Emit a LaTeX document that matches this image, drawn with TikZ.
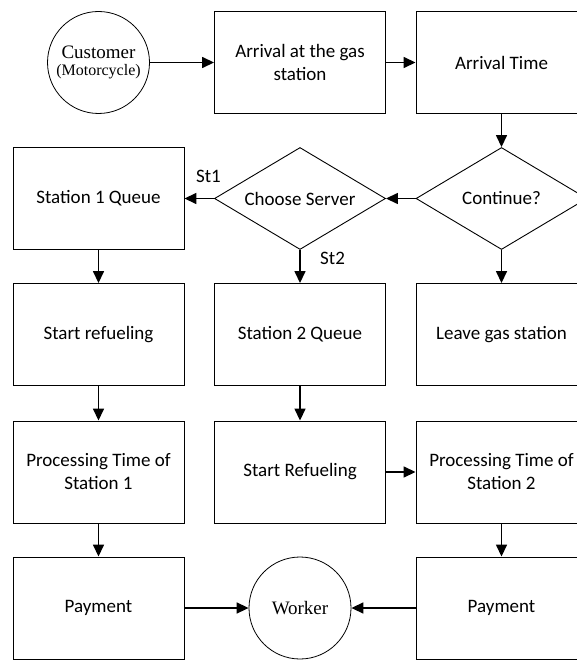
\documentclass[tikz,border=0pt]{standalone}
\usepackage{fontspec}
\setmainfont{Carlito}
\newfontfamily\circleface{Liberation Serif}
\usetikzlibrary{positioning,shapes.geometric,arrows.meta}

\tikzset{
  % rectangular process step
  stepbox/.style={draw, line width=0.9pt, minimum width=171pt, minimum height=102pt,
    inner sep=0pt, align=center, font=\fontsize{19}{23}\selectfont},
  % decision diamond
  decide/.style={draw, diamond, aspect=1.68, line width=0.9pt, minimum width=171pt,
    minimum height=102pt, inner sep=0pt, align=center, font=\fontsize{19}{23}\selectfont},
  % people in the system
  actor/.style={draw, circle, line width=0.8pt, minimum size=102pt, inner sep=0pt,
    align=center, font=\circleface\fontsize{19}{17}\selectfont},
  % connectors and branch labels
  flow/.style={-{Triangle[length=12pt,width=11pt]}, line width=1.5pt},
  branch/.style={inner sep=2pt, font=\fontsize{19}{23}\selectfont}
}

\newcommand{\gridpoints}{%
  % centre of each column
  \def\colA{98.5}
  \def\colB{300}
  \def\colC{501.5}
  % centre of each row
  \def\rowA{62.5}
  \def\rowB{198.5}
  \def\rowC{334.5}
  \def\rowD{472}
  \def\rowE{608}
}

\begin{document}
\begin{tikzpicture}[x=1pt, y=-1pt]

  % define column and row centres
  \gridpoints
  \useasboundingbox (0,0) rectangle (576,660);

  % arrival of the customer
  \node[actor] (Cust) at (\colA,\rowA) {Customer\\{\fontsize{16}{17}\selectfont(Motorcycle)}};
  \node[stepbox] (Arr) at (\colB,\rowA) {Arrival at the gas\\station};
  \node[stepbox] (ArrT) at (\colC,\rowA) {Arrival Time};

  % decisions
  \node[decide] (Cont) at (\colC,\rowB) {Continue?};
  \node[decide] (Choose) at (\colB,\rowB) {Choose Server};
  \node[stepbox] (Q1) at (\colA,\rowB) {Station 1 Queue};

  % queues and refueling
  \node[stepbox] (Ref1) at (\colA,\rowC) {Start refueling};
  \node[stepbox] (Q2) at (\colB,\rowC) {Station 2 Queue};
  \node[stepbox] (Leave) at (\colC,\rowC) {Leave gas station};
  \node[stepbox] (Proc1) at (\colA,\rowD) {Processing Time of\\Station 1};
  \node[stepbox] (Ref2) at (\colB,\rowD) {Start Refueling};
  \node[stepbox] (Proc2) at (\colC,\rowD) {Processing Time of\\Station 2};

  % payment
  \node[stepbox] (Pay1) at (\colA,\rowE) {Payment};
  \node[actor] (Work) at (\colB,\rowE) {Worker};
  \node[stepbox] (Pay2) at (\colC,\rowE) {Payment};

  % branch labels
  \node[branch] (St1) [above left=14pt and -9pt of Choose.west] {St1};
  \node[branch] (St2) [below right=0pt and 18pt of Choose.south] {St2};

  % connectors
  \draw[flow] (Cust) -- (Arr);
  \draw[flow] (Arr) -- (ArrT);
  \draw[flow] (ArrT) -- (Cont);
  \draw[flow] (Cont.west) -- (Choose.east);
  \draw[flow] (Choose.west) -- (Q1);
  \draw[flow] (Choose.south) -- (Q2);
  \draw[flow] (Cont.south) -- (Leave);
  \draw[flow] (Q1) -- (Ref1);
  \draw[flow] (Ref1) -- (Proc1);
  \draw[flow] (Q2) -- (Ref2);
  \draw[flow] (Ref2) -- (Proc2);
  \draw[flow] (Proc1) -- (Pay1);
  \draw[flow] (Proc2) -- (Pay2);
  \draw[flow] (Pay1) -- (Work);
  \draw[flow] (Pay2) -- (Work);

\end{tikzpicture}
\end{document}
